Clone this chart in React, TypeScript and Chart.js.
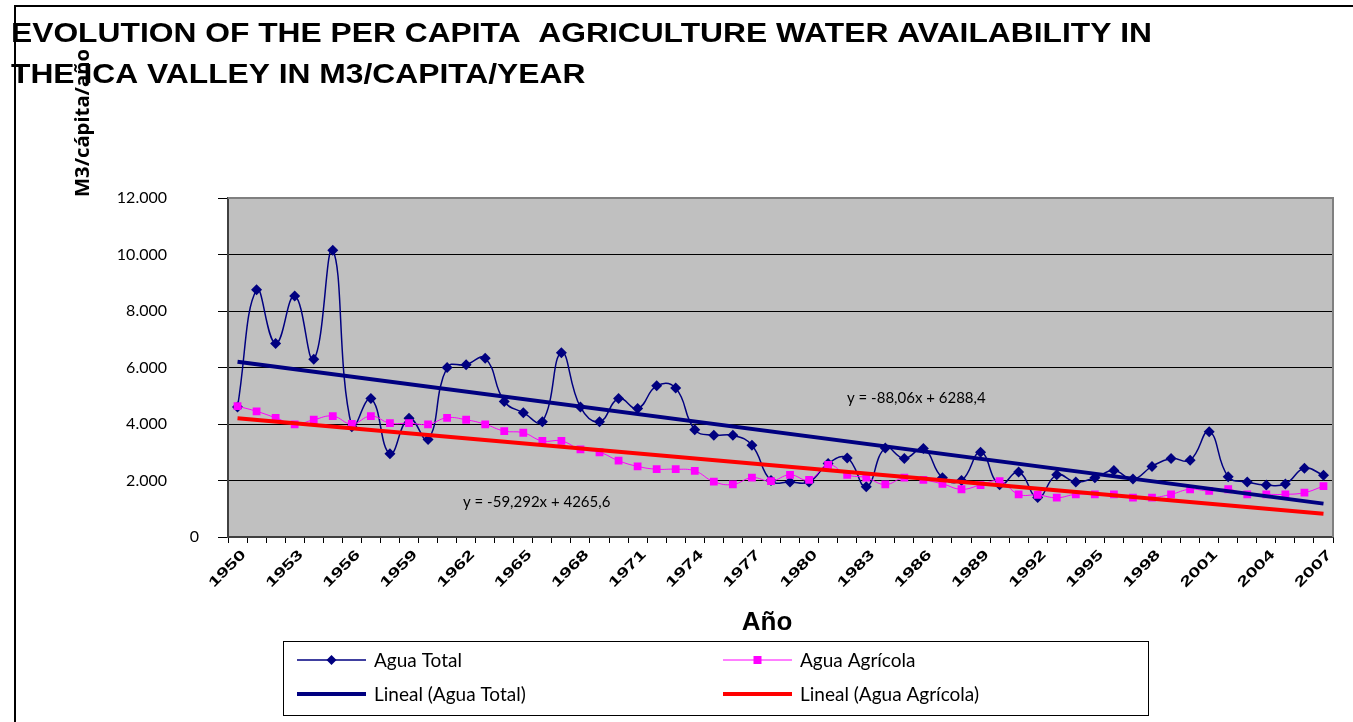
import React, { useEffect, useRef } from 'react';
import { Chart, registerables } from 'chart.js';

Chart.register(...registerables);

const years = [
  '1950', '1951', '1952', '1953', '1954', '1955', '1956', '1957', '1958', '1959',
  '1960', '1961', '1962', '1963', '1964', '1965', '1966', '1967', '1968', '1969',
  '1970', '1971', '1972', '1973', '1974', '1975', '1976', '1977', '1978', '1979',
  '1980', '1981', '1982', '1983', '1984', '1985', '1986', '1987', '1988', '1989',
  '1990', '1991', '1992', '1993', '1994', '1995', '1996', '1997', '1998', '1999',
  '2000', '2001', '2002', '2003', '2004', '2005', '2006', '2007',
];

const aguaTotal = [
  4600, 8750, 6850, 8530, 6290, 10150, 3900, 4900, 2950, 4200,
  3450, 6000, 6100, 6330, 4800, 4400, 4080, 6520, 4600, 4080,
  4900, 4550, 5350, 5270, 3800, 3600, 3600, 3250, 2000, 1950,
  1950, 2600, 2800, 1780, 3150, 2780, 3130, 2100, 2000, 3000,
  1850, 2300, 1400, 2200, 1950, 2100, 2350, 2050, 2500, 2780,
  2720, 3730, 2130, 1950, 1840, 1880, 2430, 2190,
];

const aguaAgricola = [
  4630, 4450, 4220, 3990, 4150, 4280, 4000, 4280, 4030, 4030,
  3990, 4220, 4150, 3990, 3750, 3690, 3400, 3400, 3100, 3000,
  2700, 2500, 2400, 2400, 2340, 1960, 1860, 2100, 1980, 2200,
  2020, 2550, 2200, 2100, 1860, 2100, 2020, 1880, 1690, 1840,
  1980, 1510, 1490, 1390, 1510, 1510, 1510, 1390, 1390, 1510,
  1690, 1630, 1690, 1510, 1510, 1510, 1570, 1800,
];

// Linear trend end points (first and last year), as shown by the trend equations
const trendTotalEnds = [6200.3, 1180.9];
const trendAgricolaEnds = [4206.3, 826.7];

const yTickValues = [0, 2000, 4000, 6000, 8000, 10000, 12000];
const yTickLabels = ['0', '2.000', '4.000', '6.000', '8.000', '10.000', '12.000'];
const xLabelStep = 3;

const titleLines = [
  'EVOLUTION OF THE PER CAPITA  AGRICULTURE WATER AVAILABILITY IN',
  'THE ICA VALLEY IN M3/CAPITA/YEAR',
];
const yTitle = 'M3/cápita/año';
const xTitle = 'Año';
const eqTotal = 'y = -88,06x + 6288,4';
const eqAgricola = 'y = -59,292x + 4265,6';
const legendLabels = ['Agua Total', 'Agua Agrícola', 'Lineal (Agua Total)', 'Lineal (Agua Agrícola)'];

const NAVY = '#000080';
const MAGENTA = '#FF00FF';
const RED = '#FF0000';
const CAL = 'Lato, "Open Sans", "Liberation Sans", sans-serif';

const decor = {
  id: 'decor',
  beforeDraw(chart: any) {
    const { ctx, chartArea: a } = chart;
    ctx.save();
    ctx.fillStyle = '#ffffff';
    ctx.fillRect(0, 0, chart.width, chart.height);
    ctx.fillStyle = '#C0C0C0';
    ctx.fillRect(a.left, a.top, a.right - a.left, a.bottom - a.top);
    ctx.restore();
  },
  beforeDatasetsDraw(chart: any) {
    const { ctx, chartArea: a } = chart;
    ctx.save();
    ctx.strokeStyle = '#808080';
    ctx.lineWidth = 2;
    ctx.beginPath();
    ctx.moveTo(a.left, a.top);
    ctx.lineTo(a.right, a.top);
    ctx.lineTo(a.right, a.bottom);
    ctx.stroke();
    ctx.restore();
  },
  afterDraw(chart: any) {
    const { ctx } = chart;
    const ys = chart.scales.y;
    const xs = chart.scales.x;
    ctx.save();

    // outer frame
    ctx.strokeStyle = '#000';
    ctx.lineWidth = 2;
    ctx.beginPath();
    ctx.moveTo(15, 722);
    ctx.lineTo(15, 6);
    ctx.lineTo(1353, 6);
    ctx.stroke();

    // title (stretched to the reference width)
    ctx.fillStyle = '#000';
    ctx.font = 'bold 27px "Liberation Sans", Arial, sans-serif';
    ctx.textBaseline = 'alphabetic';
    ctx.textAlign = 'left';
    const w1 = ctx.measureText(titleLines[0]).width;
    const sx = 1141 / w1;
    ctx.save();
    ctx.translate(11, 42);
    ctx.scale(sx, 1);
    ctx.fillText(titleLines[0], 0, 0);
    ctx.restore();
    ctx.save();
    ctx.translate(11, 83);
    ctx.scale(sx, 1);
    ctx.fillText(titleLines[1], 0, 0);
    ctx.restore();

    // y title
    ctx.save();
    ctx.font = 'bold 20px "Open Sans", sans-serif';
    const wy = ctx.measureText(yTitle).width;
    ctx.translate(89, 197);
    ctx.rotate(-Math.PI / 2);
    ctx.scale(148 / wy, 1);
    ctx.textAlign = 'left';
    ctx.fillText(yTitle, 0, 0);
    ctx.restore();

    // y tick labels
    ctx.font = '16px ' + CAL;
    ctx.textAlign = 'right';
    ctx.textBaseline = 'middle';
    yTickValues.forEach((v, i) => {
      const py = ys.getPixelForValue(v);
      ctx.fillText(yTickLabels[i], v === 0 ? 199 : 167, py);
    });

    // x tick labels (rotated, every third year)
    ctx.font = 'bold 14px "Liberation Sans", sans-serif';
    ctx.textAlign = 'center';
    ctx.textBaseline = 'middle';
    years.forEach((lab, i) => {
      if (i % xLabelStep !== 0) return;
      const px = xs.getPixelForValue(i);
      const w = ctx.measureText(lab).width;
      ctx.save();
      ctx.translate(px - 10, 569);
      ctx.rotate(-Math.PI / 4);
      ctx.scale(46 / w, 1);
      ctx.fillText(lab, 0, 0);
      ctx.restore();
    });

    // x title
    ctx.font = 'bold 26px "Liberation Sans Narrow", "Liberation Sans", sans-serif';
    ctx.textAlign = 'center';
    ctx.textBaseline = 'alphabetic';
    ctx.fillText(xTitle, 767, 630);

    // trend equations
    ctx.font = '15px ' + CAL;
    ctx.textAlign = 'left';
    ctx.textBaseline = 'middle';
    ctx.fillText(eqTotal, 847, 398);
    ctx.fillText(eqAgricola, 463, 502);

    // legend
    ctx.strokeStyle = '#000';
    ctx.lineWidth = 1;
    ctx.strokeRect(283.5, 641.5, 865, 74);
    const rows = [660, 694];
    const cols = [{ x0: 297, x1: 366, tx: 374 }, { x0: 723, x1: 792, tx: 800 }];
    const items = [
      { c: 0, r: 0, color: NAVY, lw: 1.5, marker: 'diamond' },
      { c: 1, r: 0, color: MAGENTA, lw: 1, marker: 'square' },
      { c: 0, r: 1, color: NAVY, lw: 4, marker: '' },
      { c: 1, r: 1, color: RED, lw: 4, marker: '' },
    ];
    ctx.font = '19px ' + CAL;
    items.forEach((it, i) => {
      const col = cols[it.c];
      const y = rows[it.r];
      ctx.strokeStyle = it.color;
      ctx.lineWidth = it.lw;
      ctx.beginPath();
      ctx.moveTo(col.x0, y);
      ctx.lineTo(col.x1, y);
      ctx.stroke();
      const cx = (col.x0 + col.x1) / 2;
      ctx.fillStyle = it.color;
      if (it.marker === 'diamond') {
        ctx.beginPath();
        ctx.moveTo(cx, y - 5);
        ctx.lineTo(cx + 5, y);
        ctx.lineTo(cx, y + 5);
        ctx.lineTo(cx - 5, y);
        ctx.closePath();
        ctx.fill();
      } else if (it.marker === 'square') {
        ctx.fillRect(cx - 4, y - 4, 8, 8);
      }
      ctx.fillStyle = '#000';
      ctx.fillText(legendLabels[i], col.tx, y + 1);
    });

    ctx.restore();
  },
};

export default function App() {
  const ref = useRef<HTMLCanvasElement | null>(null);

  useEffect(() => {
    if (!ref.current) return;
    const chart = new Chart(ref.current, {
      type: 'line',
      data: {
        labels: years,
        datasets: [
          {
            label: legendLabels[0],
            data: aguaTotal,
            borderColor: NAVY,
            backgroundColor: NAVY,
            borderWidth: 1.5,
            pointStyle: 'rectRot',
            pointRadius: 5.5,
            pointBorderWidth: 0,
            tension: 0.45,
            order: 2,
          },
          {
            label: legendLabels[1],
            data: aguaAgricola,
            borderColor: MAGENTA,
            backgroundColor: MAGENTA,
            borderWidth: 1,
            pointStyle: 'rect',
            pointRadius: 5.5,
            pointBorderWidth: 0,
            tension: 0.45,
            order: 1,
          },
          {
            label: legendLabels[2],
            data: [
              { x: years[0], y: trendTotalEnds[0] },
              { x: years[years.length - 1], y: trendTotalEnds[1] },
            ],
            borderColor: NAVY,
            borderWidth: 4,
            pointRadius: 0,
            tension: 0,
            order: 0,
          },
          {
            label: legendLabels[3],
            data: [
              { x: years[0], y: trendAgricolaEnds[0] },
              { x: years[years.length - 1], y: trendAgricolaEnds[1] },
            ],
            borderColor: RED,
            borderWidth: 4,
            pointRadius: 0,
            tension: 0,
            order: 0,
          },
        ] as any,
      },
      options: {
        responsive: false,
        animation: false,
        layout: { padding: { top: 198, right: 20, left: 0, bottom: 0 } },
        plugins: {
          legend: { display: false },
          tooltip: { enabled: false },
          title: { display: false },
        },
        scales: {
          x: {
            type: 'category',
            offset: true,
            grid: {
              display: true,
              drawOnChartArea: false,
              drawTicks: true,
              tickLength: 6,
              offset: true,
              color: '#000',
              lineWidth: 1,
            },
            border: { display: true, color: '#404040', width: 2 },
            ticks: { display: false, autoSkip: false },
            afterFit: (s: any) => {
              s.height = 185;
            },
          },
          y: {
            min: 0,
            max: 12000,
            ticks: { stepSize: 2000, display: false },
            grid: { color: '#000', lineWidth: 1, drawTicks: true, tickLength: 10 },
            border: { display: true, color: '#404040', width: 2 },
            afterFit: (s: any) => {
              s.width = 228;
            },
          },
        },
      } as any,
      plugins: [decor],
    });
    return () => chart.destroy();
  }, []);

  return (
    <div style={{ position: 'fixed', left: 0, top: 0, width: 1353, height: 722, background: '#fff' }}>
      <canvas ref={ref} width={1353} height={722} style={{ display: 'block', width: 1353, height: 722 }} />
    </div>
  );
}
